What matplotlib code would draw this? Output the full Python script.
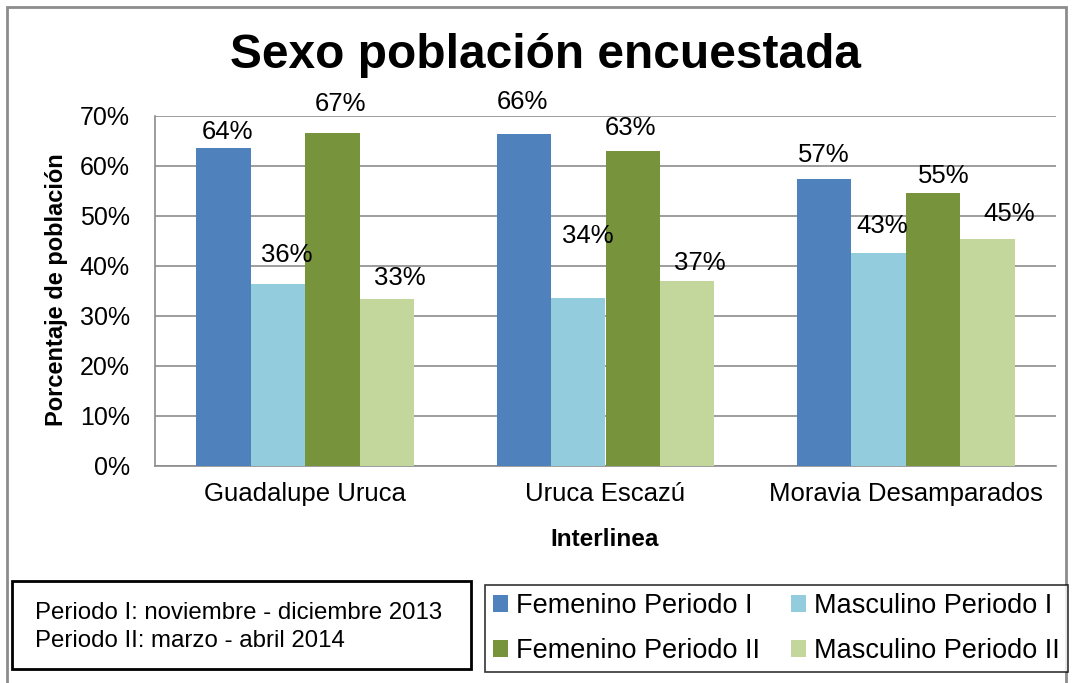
import matplotlib
matplotlib.use("Agg")
import matplotlib.pyplot as plt
from matplotlib.patches import Rectangle, Patch
import numpy as np

plt.rcParams['font.family'] = ['Liberation Sans', 'DejaVu Sans']

categories = ["Guadalupe Uruca", "Uruca Escazú", "Moravia Desamparados"]
series_names = ["Femenino Periodo I", "Masculino Periodo I",
                "Femenino Periodo II", "Masculino Periodo II"]
fem_p1 = [63.6, 66.4, 57.4]
masc_p1 = [36.4, 33.6, 42.6]
fem_p2 = [66.6, 63.0, 54.6]
masc_p2 = [33.4, 37.0, 45.4]
yticks = [0, 10, 20, 30, 40, 50, 60, 70]

colors = ["#4F81BD", "#93CDDD", "#77933C", "#C3D69B"]
# label offsets (pixels) from bar top-center to label center, per series/category
label_dx = [[4, -2, -1], [9, 9, 4], [8, -2, 11], [13, 13, 22]]
label_dy = [[18, 34, 26], [31, 64, 29], [31, 25, 19], [23, 20, 27]]

W, H = 1073, 683
fig = plt.figure(figsize=(W / 100, H / 100), dpi=100)
ax = fig.add_axes([155 / W, 1 - 465.7 / H, (1056 - 155) / W, (465.7 - 115.5) / H])

x = np.arange(len(categories))
bw = 0.181
all_series = [fem_p1, masc_p1, fem_p2, masc_p2]
for i, vals in enumerate(all_series):
    pos = x + (i - 1.5) * bw
    ax.bar(pos, vals, width=bw, color=colors[i], zorder=3, label=series_names[i])
    for j, v in enumerate(vals):
        ax.annotate(f"{round(v):d}%", xy=(pos[j], v),
                    xytext=(label_dx[i][j], label_dy[i][j] - 9.5),
                    textcoords="offset pixels", ha="center", va="baseline",
                    fontsize=18.5, color="black", zorder=5)

ax.set_xlim(-0.5, 2.5)
ax.set_ylim(0, 70)
ax.set_yticks(yticks)
ax.set_yticklabels([f"{t}%" for t in yticks], fontsize=18)
ax.set_xticks(x)
ax.set_xticklabels(categories, fontsize=18.5)
ax.tick_params(axis="y", length=0, pad=18)
ax.tick_params(axis="x", length=0, pad=12)
ax.yaxis.grid(True, color="#8C8C8C", linewidth=1.2, zorder=0)
for s in ["top", "right"]:
    ax.spines[s].set_visible(False)
for s in ["left", "bottom"]:
    ax.spines[s].set_color("#8C8C8C")
    ax.spines[s].set_linewidth(1.2)
ax.set_axisbelow(True)

ax.set_ylabel("Porcentaje de población", fontsize=17, fontweight="bold", labelpad=12)
ax.yaxis.set_label_coords((56.7 - 155) / (1056 - 155), (465.7 - 290) / (465.7 - 115.5))
ax.set_xlabel("Interlinea", fontsize=17.5, fontweight="bold")
ax.xaxis.set_label_coords((605 - 155) / (1056 - 155), -(539 - 465.7) / (465.7 - 115.5))
ax.xaxis.label.set_va("center")
ax.yaxis.label.set_va("center")

fig.text(545 / W, 1 - 55 / H, "Sexo población encuestada", ha="center", va="center",
         fontsize=34.5, fontweight="bold")

# outer chart border
fig.add_artist(Rectangle((7 / W, -0.05), (1066 - 7) / W, (H - 7) / H + 0.05,
                         transform=fig.transFigure, fill=False,
                         edgecolor="#8C8C8C", linewidth=2))

# left note box
fig.add_artist(Rectangle((12 / W, 1 - 669 / H), (471 - 12) / W, (669 - 581) / H,
                         transform=fig.transFigure, fill=False,
                         edgecolor="black", linewidth=2))
fig.text(35 / W, 1 - 627 / H,
         "Periodo I: noviembre - diciembre 2013\nPeriodo II: marzo - abril 2014",
         ha="left", va="center", fontsize=17.3, linespacing=1.32)

# legend (column-wise fill: Fem I, Fem II | Masc I, Masc II)
order = [0, 2, 1, 3]
handles = [Patch(facecolor=colors[k], edgecolor="none") for k in order]
labels = [series_names[k] for k in order]
leg = fig.legend(handles, labels, loc="upper left",
                 bbox_to_anchor=(485 / W, 1 - 668 / H, (1068 - 485) / W, (668 - 585) / H),
                 mode="expand", ncol=2, fontsize=19.5, frameon=True, fancybox=False,
                 edgecolor="black", handlelength=0.55, handleheight=0.55,
                 handletextpad=0.3, columnspacing=1.0, borderaxespad=0,
                 labelspacing=0.7, borderpad=0.3)
leg.get_frame().set_linewidth(1.2)

fig.savefig("out.png", dpi=100)
